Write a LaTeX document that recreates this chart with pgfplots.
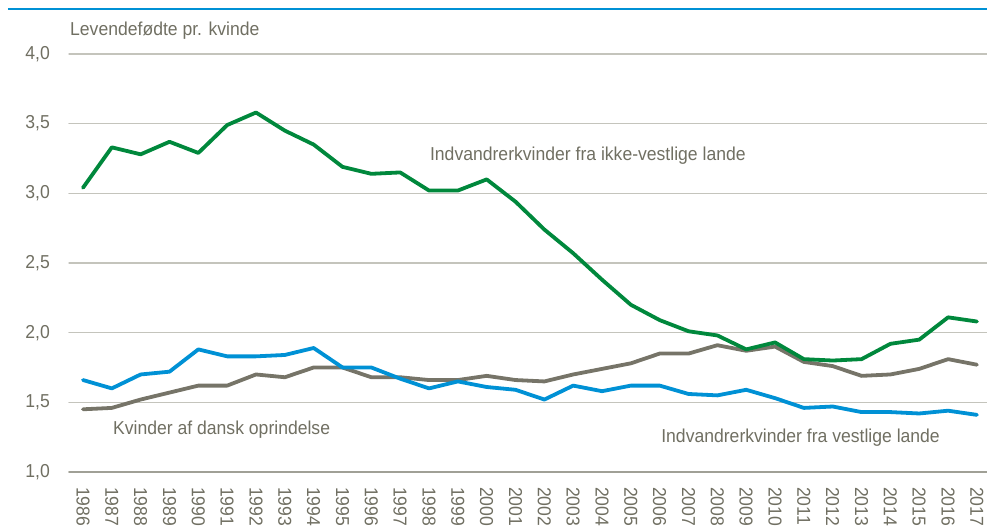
\documentclass[border=0pt]{standalone}
\usepackage{pgfplots}
\pgfplotsset{compat=1.18}
\usepackage{fontspec}
\setmainfont{Liberation Sans}[FakeStretch=0.94]
\definecolor{cgreen}{RGB}{0,136,60}
\definecolor{cblue}{RGB}{0,145,213}
\definecolor{cgray}{RGB}{118,116,104}
\definecolor{ctext}{RGB}{112,111,98}
\definecolor{cgrid}{RGB}{196,196,188}
\definecolor{caxis}{RGB}{160,160,150}
\newcommand\cf{\fontsize{18.7bp}{22bp}\selectfont}
\begin{document}
\begin{tikzpicture}
\useasboundingbox (-69bp,-56bp) rectangle (918bp,472bp);
\draw[cblue, line width=2bp] (-61bp,463bp) -- (918bp,463bp);
\begin{axis}[
  at={(0,0)}, anchor=south west,
  scale only axis, width=918bp, height=418bp,
  xmin=1985.515, xmax=2017.35, ymin=1, ymax=4,
  xtick={1986,...,2017},
  ytick={1,1.5,2,2.5,3,3.5,4},
  separate axis lines,
  axis x line*=bottom, axis y line*=left,
  y axis line style={draw=none},
  x axis line style={draw=caxis, line width=1.2bp},
  ymajorgrids, grid style={cgrid, line width=1.1bp},
  major tick length=0pt,
  tick label style={font=\cf, text=ctext, inner sep=0pt},
  /pgf/number format/assume math mode=true,
  xticklabel style={rotate=-90, anchor=west, /pgf/number format/1000 sep={}},
  xticklabel shift=15bp,
  yticklabel style={anchor=east, /pgf/number format/.cd, use comma, fixed, fixed zerofill, precision=1},
  yticklabel shift=19bp,
  clip=false,
  line join=round, line cap=round,
]
\addplot[cgray, line width=3.8bp] coordinates {
(1986,1.45)(1987,1.46)(1988,1.52)(1989,1.57)(1990,1.62)(1991,1.62)(1992,1.70)(1993,1.68)
(1994,1.75)(1995,1.75)(1996,1.68)(1997,1.68)(1998,1.66)(1999,1.66)(2000,1.69)(2001,1.66)
(2002,1.65)(2003,1.70)(2004,1.74)(2005,1.78)(2006,1.85)(2007,1.85)(2008,1.91)(2009,1.87)
(2010,1.90)(2011,1.79)(2012,1.76)(2013,1.69)(2014,1.70)(2015,1.74)(2016,1.81)(2017,1.77)};
\addplot[cblue, line width=3.8bp] coordinates {
(1986,1.66)(1987,1.60)(1988,1.70)(1989,1.72)(1990,1.88)(1991,1.83)(1992,1.83)(1993,1.84)
(1994,1.89)(1995,1.75)(1996,1.75)(1997,1.67)(1998,1.60)(1999,1.65)(2000,1.61)(2001,1.59)
(2002,1.52)(2003,1.62)(2004,1.58)(2005,1.62)(2006,1.62)(2007,1.56)(2008,1.55)(2009,1.59)
(2010,1.53)(2011,1.46)(2012,1.47)(2013,1.43)(2014,1.43)(2015,1.42)(2016,1.44)(2017,1.41)};
\addplot[cgreen, line width=3.8bp] coordinates {
(1986,3.04)(1987,3.33)(1988,3.28)(1989,3.37)(1990,3.29)(1991,3.49)(1992,3.58)(1993,3.45)
(1994,3.35)(1995,3.19)(1996,3.14)(1997,3.15)(1998,3.02)(1999,3.02)(2000,3.10)(2001,2.94)
(2002,2.74)(2003,2.57)(2004,2.38)(2005,2.20)(2006,2.09)(2007,2.01)(2008,1.98)(2009,1.88)
(2010,1.93)(2011,1.81)(2012,1.80)(2013,1.81)(2014,1.92)(2015,1.95)(2016,2.11)(2017,2.08)};
\node[anchor=west, font=\cf, text=ctext, inner sep=0pt] at (axis cs:1998.03,3.267) {Indvandrerkvinder fra ikke-vestlige lande};
\node[anchor=west, font=\cf, text=ctext, inner sep=0pt] at (axis cs:1987.04,1.301) {Kvinder af dansk oprindelse};
\node[anchor=east, font=\cf, text=ctext, inner sep=0pt] at (axis cs:2015.72,1.244) {Indvandrerkvinder fra vestlige lande};
\end{axis}
\node[anchor=west, font=\cf, text=ctext, inner sep=0pt] at (1bp,441bp) {Levendefødte pr. kvinde};
\end{tikzpicture}
\end{document}
